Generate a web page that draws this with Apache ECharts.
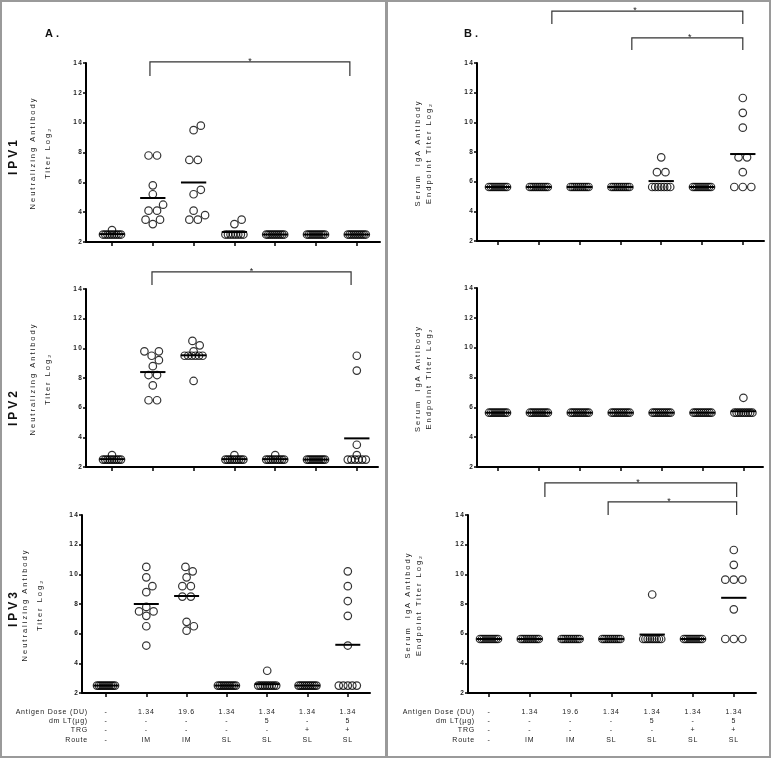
<!DOCTYPE html>
<html><head><meta charset="utf-8">
<script src="https://cdn.jsdelivr.net/npm/echarts@6/dist/echarts.min.js"></script>
<style>html,body{margin:0;padding:0;background:#fff}#c{width:772px;height:759px}</style>
</head><body><div id="c"></div>
<script>
// ---------- DATA ----------
const groupIndex = [0, 1, 2, 3, 4, 5, 6];
const antigenDose = ['-', '1.34', '19.6', '1.34', '1.34', '1.34', '1.34'];
const dmLT = ['-', '-', '-', '-', '5', '-', '5'];
const trg = ['-', '-', '-', '-', '-', '+', '+'];
const route = ['-', 'IM', 'IM', 'SL', 'SL', 'SL', 'SL'];
const rowHeaders = ['Antigen Dose (DU)', 'dm LT(µg)', 'TRG', 'Route'];
const yTicks = [2, 4, 6, 8, 10, 12, 14];

// Neutralizing antibody titer (log2), panel A
const nabIPV1 = [
  [2.8, 2.5, 2.5, 2.5, 2.5, 2.5, 2.5, 2.5, 2.5, 2.5],
  [7.8, 7.8, 5.8, 5.2, 4.5, 4.1, 4.1, 3.5, 3.5, 3.2],
  [9.8, 9.5, 7.5, 7.5, 5.5, 5.2, 4.1, 3.8, 3.5, 3.5],
  [3.5, 3.2, 2.5, 2.5, 2.5, 2.5, 2.5, 2.5, 2.5, 2.5],
  [2.5, 2.5, 2.5, 2.5, 2.5, 2.5, 2.5, 2.5, 2.5, 2.5],
  [2.5, 2.5, 2.5, 2.5, 2.5, 2.5, 2.5, 2.5, 2.5, 2.5],
  [2.5, 2.5, 2.5, 2.5, 2.5, 2.5, 2.5, 2.5, 2.5, 2.5]
];
const nabIPV2 = [
  [2.8, 2.5, 2.5, 2.5, 2.5, 2.5, 2.5, 2.5, 2.5, 2.5],
  [9.8, 9.8, 9.5, 9.2, 8.8, 8.2, 8.2, 7.5, 6.5, 6.5],
  [10.5, 10.2, 9.8, 9.5, 9.5, 9.5, 9.5, 9.5, 9.5, 7.8],
  [2.8, 2.5, 2.5, 2.5, 2.5, 2.5, 2.5, 2.5, 2.5, 2.5],
  [2.8, 2.5, 2.5, 2.5, 2.5, 2.5, 2.5, 2.5, 2.5, 2.5],
  [2.5, 2.5, 2.5, 2.5, 2.5, 2.5, 2.5, 2.5, 2.5, 2.5],
  [9.5, 8.5, 3.5, 2.8, 2.5, 2.5, 2.5, 2.5, 2.5, 2.5]
];
const nabIPV3 = [
  [2.5, 2.5, 2.5, 2.5, 2.5, 2.5, 2.5, 2.5, 2.5, 2.5],
  [10.5, 9.8, 9.2, 8.8, 7.8, 7.5, 7.5, 7.2, 6.5, 5.2],
  [10.5, 10.2, 9.8, 9.2, 9.2, 8.5, 8.5, 6.8, 6.5, 6.2],
  [2.5, 2.5, 2.5, 2.5, 2.5, 2.5, 2.5, 2.5, 2.5, 2.5],
  [3.5, 2.5, 2.5, 2.5, 2.5, 2.5, 2.5, 2.5, 2.5, 2.5],
  [2.5, 2.5, 2.5, 2.5, 2.5, 2.5, 2.5, 2.5, 2.5, 2.5],
  [10.2, 9.2, 8.2, 7.2, 5.2, 2.5, 2.5, 2.5, 2.5, 2.5]
];
// Serum IgA endpoint titer (log2), panel B
const igaIPV1 = [
  [5.64, 5.64, 5.64, 5.64, 5.64, 5.64, 5.64, 5.64, 5.64, 5.64],
  [5.64, 5.64, 5.64, 5.64, 5.64, 5.64, 5.64, 5.64, 5.64, 5.64],
  [5.64, 5.64, 5.64, 5.64, 5.64, 5.64, 5.64, 5.64, 5.64, 5.64],
  [5.64, 5.64, 5.64, 5.64, 5.64, 5.64, 5.64, 5.64, 5.64, 5.64],
  [7.64, 6.64, 6.64, 5.64, 5.64, 5.64, 5.64, 5.64, 5.64, 5.64],
  [5.64, 5.64, 5.64, 5.64, 5.64, 5.64, 5.64, 5.64, 5.64, 5.64],
  [11.64, 10.64, 9.64, 7.64, 7.64, 6.64, 5.64, 5.64, 5.64]
];
const igaIPV2 = [
  [5.64, 5.64, 5.64, 5.64, 5.64, 5.64, 5.64, 5.64, 5.64, 5.64],
  [5.64, 5.64, 5.64, 5.64, 5.64, 5.64, 5.64, 5.64, 5.64, 5.64],
  [5.64, 5.64, 5.64, 5.64, 5.64, 5.64, 5.64, 5.64, 5.64, 5.64],
  [5.64, 5.64, 5.64, 5.64, 5.64, 5.64, 5.64, 5.64, 5.64, 5.64],
  [5.64, 5.64, 5.64, 5.64, 5.64, 5.64, 5.64, 5.64, 5.64, 5.64],
  [5.64, 5.64, 5.64, 5.64, 5.64, 5.64, 5.64, 5.64, 5.64, 5.64],
  [6.64, 5.64, 5.64, 5.64, 5.64, 5.64, 5.64, 5.64, 5.64, 5.64]
];
const igaIPV3 = [
  [5.64, 5.64, 5.64, 5.64, 5.64, 5.64, 5.64, 5.64, 5.64, 5.64],
  [5.64, 5.64, 5.64, 5.64, 5.64, 5.64, 5.64, 5.64, 5.64, 5.64],
  [5.64, 5.64, 5.64, 5.64, 5.64, 5.64, 5.64, 5.64, 5.64, 5.64],
  [5.64, 5.64, 5.64, 5.64, 5.64, 5.64, 5.64, 5.64, 5.64, 5.64],
  [8.64, 5.64, 5.64, 5.64, 5.64, 5.64, 5.64, 5.64, 5.64, 5.64],
  [5.64, 5.64, 5.64, 5.64, 5.64, 5.64, 5.64, 5.64, 5.64, 5.64],
  [11.64, 10.64, 9.64, 9.64, 9.64, 7.64, 5.64, 5.64, 5.64]
];
// significance comparisons: [fromGroup, toGroup]
const sigA1 = [[1, 6]];
const sigA2 = [[1, 6]];
const sigB1 = [[1, 6], [3, 6]];
const sigB3 = [[1, 6], [3, 6]];

// ---------- LAYOUT ----------
const FONT = '"Liberation Sans", Arial, sans-serif';
// letter spacing (px) for the small, tracked-out text, by font size
const TRACKING = {'7.5': 2, '12': 3, '6.5': 1.2, '7': 0.8};
(function () {
  const proto = CanvasRenderingContext2D.prototype;
  if (!('letterSpacing' in proto)) return;
  const orig = proto.fillText;
  proto.fillText = function (t, x, y, w) {
    const m = /(\d+(?:\.\d+)?)px/.exec(this.font);
    const ls = m ? TRACKING[String(parseFloat(m[1]))] : 0;
    if (ls) {
      this.letterSpacing = ls + 'px';
      const r = w === undefined ? orig.call(this, t, x, y) : orig.call(this, t, x, y, w);
      this.letterSpacing = '0px';
      return r;
    }
    return w === undefined ? orig.call(this, t, x, y) : orig.call(this, t, x, y, w);
  };
})();

// bracket geometry in data units: [x1, x2, yTop, yDrop, starX]
const bracketGeom = {
  A1: [[0.93, 5.83, 14.07, 13.13, 3.38]],
  A2: [[0.98, 5.86, 15.15, 14.27, 3.42]],
  B1: [[1.32, 6.0, 17.5, 16.63, 3.36], [3.28, 6.0, 15.69, 14.88, 4.7]],
  B3: [[1.37, 6.07, 16.16, 15.21, 3.65], [2.92, 6.07, 14.88, 14.0, 4.41]]
};
const panels = [
  {key: 'A1', data: nabIPV1, sig: sigA1, left: 86, top: 63, width: 294, height: 179, first: 112, step: 40.8, table: false},
  {key: 'A2', data: nabIPV2, sig: sigA2, left: 86, top: 289, width: 292, height: 178, first: 112, step: 40.8, table: false},
  {key: 'A3', data: nabIPV3, sig: [], left: 82, top: 515, width: 288, height: 178, first: 106, step: 40.3, table: true},
  {key: 'B1', data: igaIPV1, sig: sigB1, left: 477, top: 63, width: 287, height: 178, first: 498, step: 40.8, table: false},
  {key: 'B2', data: igaIPV2, sig: [], left: 477, top: 288, width: 286, height: 179, first: 498, step: 40.9, table: false},
  {key: 'B3', data: igaIPV3, sig: sigB3, left: 468, top: 515, width: 288, height: 178, first: 489, step: 40.8, table: true}
];

// scatter-dot (swarm) layout: pixel offsets computed from the values
function swarm(vals, pxY) {
  const D = 8.5, MAXSPAN = 18;
  const counts = {};
  vals.forEach(v => counts[v] = (counts[v] || 0) + 1);
  const uniq = Object.keys(counts).map(Number).sort((a, b) => a - b);
  const placed = [], out = [];
  const free = (x, y) => placed.every(p => Math.hypot(p.x - x, p.y - y) >= D - 1e-6);
  const placeOne = v => {
    const y = v * pxY, cands = [0];
    placed.forEach(p => {
      const dy = Math.abs(p.y - y);
      if (dy < D) { const w = Math.sqrt(D * D - dy * dy); cands.push(p.x + w, p.x - w); }
    });
    cands.sort((a, b) => Math.abs(a) - Math.abs(b) || b - a);
    const x = cands.find(c => free(c, y));
    placed.push({x, y});
    out.push({v, dx: x});
  };
  uniq.forEach(v => {
    const n = counts[v], y = v * pxY;
    if (n === 1) { placeOne(v); return; }
    if (n >= 4) {
      const s = Math.min(D, MAXSPAN / (n - 1));
      for (let i = 0; i < n; i++) out.push({v, dx: (i - (n - 1) / 2) * s});
      return;
    }
    const xs = [];
    for (let i = 0; i < n; i++) xs.push((i - (n - 1) / 2) * D);
    if (xs.every(x => free(x, y))) xs.forEach(x => { placed.push({x, y}); out.push({v, dx: x}); });
    else for (let i = 0; i < n; i++) placeOne(v);
  });
  return out;
}

const grids = [], xAxes = [], yAxes = [], series = [];
panels.forEach((p, i) => {
  const xmin = -(p.first - p.left) / p.step;
  const xmax = xmin + p.width / p.step;
  const pxY = p.height / 12;
  grids.push({left: p.left, top: p.top, width: p.width, height: p.height});
  xAxes.push({
    type: 'value', gridIndex: i, min: xmin, max: xmax,
    axisLine: {show: true, onZero: false, lineStyle: {color: '#000', width: 2}},
    axisTick: {show: true, customValues: groupIndex, length: 4, lineStyle: {color: '#000', width: 1.5}},
    axisLabel: p.table ? {
      show: true, customValues: groupIndex, margin: 14, fontSize: 7, lineHeight: 9.4,
      color: '#222', fontFamily: FONT,
      formatter: v => { const g = Math.round(v); return [antigenDose[g], dmLT[g], trg[g], route[g]].join('\n'); }
    } : {show: false},
    splitLine: {show: false}
  });
  yAxes.push({
    type: 'value', gridIndex: i, min: yTicks[0], max: yTicks[yTicks.length - 1], interval: 2,
    axisLine: {show: true, onZero: false, lineStyle: {color: '#000', width: 2}},
    axisTick: {show: true, length: 3, lineStyle: {color: '#000', width: 1.5}},
    axisLabel: {fontSize: 6.5, fontWeight: 'bold', color: '#222', margin: 3, fontFamily: FONT},
    splitLine: {show: false}
  });
  const pts = [], means = [];
  p.data.forEach((vals, g) => {
    swarm(vals, pxY).forEach(o => pts.push([g + o.dx / p.step, o.v]));
    means.push([g, vals.reduce((a, b) => a + b, 0) / vals.length]);
  });
  series.push({
    type: 'scatter', xAxisIndex: i, yAxisIndex: i, data: pts, symbol: 'circle', symbolSize: 7.5,
    itemStyle: {color: 'rgba(255,255,255,0)', borderColor: '#000', borderWidth: 1.2}, silent: true, z: 3
  });
  series.push({
    type: 'custom', xAxisIndex: i, yAxisIndex: i, data: means, z: 4, silent: true,
    renderItem: (params, api) => {
      const g = api.value(0), m = api.value(1);
      const a = api.coord([g - 0.31, m]), b = api.coord([g + 0.31, m]);
      return {type: 'line', shape: {x1: a[0], y1: a[1], x2: b[0], y2: b[1]}, style: {stroke: '#000', lineWidth: 2}};
    }
  });
  if (p.sig.length) {
    series.push({
      type: 'custom', xAxisIndex: i, yAxisIndex: i, clip: false, silent: true, z: 5,
      data: bracketGeom[p.key],
      renderItem: (params, api) => {
        const x1 = api.value(0), x2 = api.value(1), yt = api.value(2), yd = api.value(3), sx = api.value(4);
        const a = api.coord([x1, yd]), b = api.coord([x1, yt]), c = api.coord([x2, yt]), d = api.coord([x2, yd]);
        const s = api.coord([sx, yt]);
        return {type: 'group', children: [
          {type: 'polyline', shape: {points: [a, b, c, d]}, style: {stroke: '#333', lineWidth: 1.2, fill: 'none'}},
          {type: 'text', x: s[0], y: s[1] - 0.5, style: {text: '*', fill: '#222', font: '9px ' + FONT, align: 'center', verticalAlign: 'middle'}}
        ]};
      }
    });
  }
});

function txt(x, y, text, font, opts) {
  return Object.assign({type: 'text', x, y, silent: true, style: Object.assign({
    text, font, fill: '#111', align: 'center', verticalAlign: 'middle', textAlign: 'center', textVerticalAlign: 'middle'
  }, (opts && opts.style) || {})}, (opts && opts.el) || {});
}
const R = Math.PI / 2;
const nameStyleA = {el: {rotation: R}, style: {lineHeight: 15, fill: '#222'}};
const nameStyleB = {el: {rotation: R}, style: {lineHeight: 11, fill: '#222'}};
const headStyle = {style: {align: 'right', textAlign: 'right', verticalAlign: 'top', textVerticalAlign: 'top', lineHeight: 9.4, fill: '#222'}};
const graphics = [
  {type: 'rect', silent: true, shape: {x: 1, y: 1, width: 385, height: 756}, style: {fill: 'none', stroke: '#9a9a9a', lineWidth: 2}},
  {type: 'rect', silent: true, shape: {x: 387, y: 1, width: 383, height: 756}, style: {fill: 'none', stroke: '#9a9a9a', lineWidth: 2}},
  txt(52, 34, 'A .', 'bold 11px ' + FONT),
  txt(471, 34, 'B .', 'bold 11px ' + FONT),
  txt(14, 156, 'IPV1', 'bold 12px ' + FONT, {el: {rotation: R}}),
  txt(14, 407, 'IPV2', 'bold 12px ' + FONT, {el: {rotation: R}}),
  txt(14, 608, 'IPV3', 'bold 12px ' + FONT, {el: {rotation: R}}),
  txt(40.5, 153, 'Neutralizing Antibody\nTiter Log₂', '7.5px ' + FONT, nameStyleA),
  txt(40.5, 379, 'Neutralizing Antibody\nTiter Log₂', '7.5px ' + FONT, nameStyleA),
  txt(32.5, 605, 'Neutralizing Antibody\nTiter Log₂', '7.5px ' + FONT, nameStyleA),
  txt(423.5, 153, 'Serum  IgA Antibody\nEndpoint Titer Log₂', '7.5px ' + FONT, nameStyleB),
  txt(423.5, 378.5, 'Serum  IgA Antibody\nEndpoint Titer Log₂', '7.5px ' + FONT, nameStyleB),
  txt(413.5, 605, 'Serum  IgA Antibody\nEndpoint Titer Log₂', '7.5px ' + FONT, nameStyleB),
  txt(88, 707, rowHeaders.join('\n'), '7px ' + FONT, headStyle),
  txt(475, 707, rowHeaders.join('\n'), '7px ' + FONT, headStyle)
];

const chart = echarts.init(document.getElementById('c'), null, {renderer: 'canvas'});
chart.setOption({
  animation: false,
  backgroundColor: '#fff',
  grid: grids, xAxis: xAxes, yAxis: yAxes, series,
  graphic: graphics
});
</script></body></html>
